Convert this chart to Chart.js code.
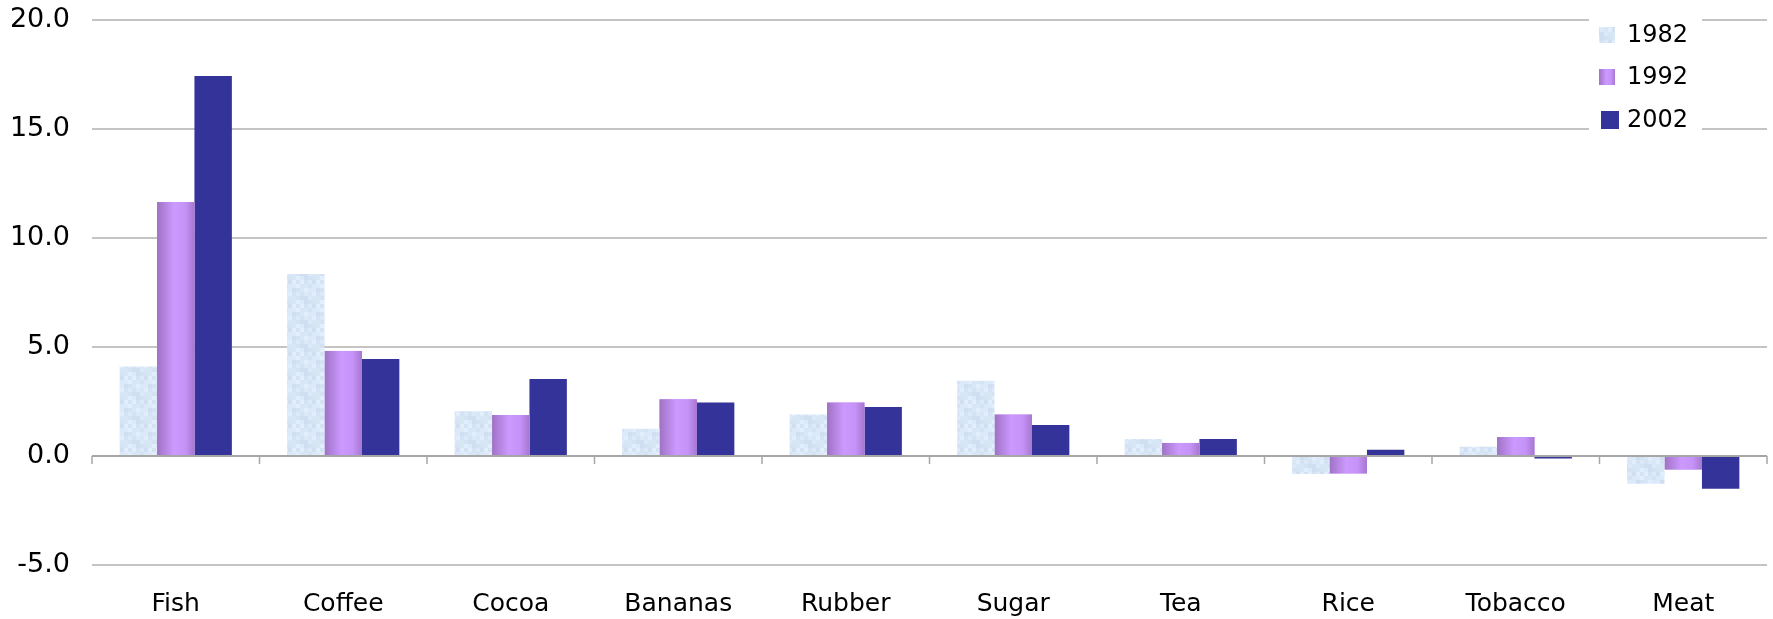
<!DOCTYPE html>
<html>
<head>
<meta charset="utf-8">
<script src="https://cdn.jsdelivr.net/npm/chart.js@4"></script>
<style>
    html, body { margin: 0; padding: 0; background: #ffffff; }
    #wrap { width: 1773px; height: 619px; position: relative; }
</style>
</head>
<body>
<div id="wrap"><canvas id="exportChart"></canvas></div>
<script>
const categories = ['Fish', 'Coffee', 'Cocoa', 'Bananas', 'Rubber', 'Sugar', 'Tea', 'Rice', 'Tobacco', 'Meat'];
const years = ['1982', '1992', '2002'];
const values1982 = [4.1, 8.35, 2.05, 1.25, 1.9, 3.45, 0.78, -0.83, 0.42, -1.27];
const values1992 = [11.65, 4.82, 1.88, 2.6, 2.45, 1.9, 0.6, -0.8, 0.87, -0.62];
const values2002 = [17.43, 4.45, 3.53, 2.45, 2.25, 1.42, 0.78, 0.29, -0.12, -1.5];
const yTicks = [-5, 0, 5, 10, 15, 20];

const FONT = "'DejaVu Sans', 'Liberation Sans', sans-serif";

// mottled light blue fill for 1982 (fixed pattern, not data)
function makeMottle() {
    const c = document.createElement('canvas');
    c.width = 24; c.height = 24;
    const g = c.getContext('2d');
    const shades = ['#dbe9f8', '#d3e3f4', '#e2eefb', '#cfdff1', '#d8e7f6'];
    for (let i = 0; i < 6; i++) {
        for (let j = 0; j < 6; j++) {
            g.fillStyle = shades[(i * 3 + j * 2 + (i * j) % 3) % shades.length];
            g.fillRect(i * 4, j * 4, 4, 4);
        }
    }
    return g.createPattern(c, 'repeat');
}
const mottle = makeMottle();

const colors = [mottle, '#c596f7', '#333399'];

function purpleGradient(ctx, left, width) {
    const gr = ctx.createLinearGradient(left, 0, left + width, 0);
    gr.addColorStop(0, '#9f72c4');
    gr.addColorStop(0.45, '#cc99ff');
    gr.addColorStop(0.75, '#c593f8');
    gr.addColorStop(1, '#a677cf');
    return gr;
}

// gradient on the 1992 bars, drawn over each bar's own geometry
const barShading = {
    id: 'barShading',
    afterDatasetDraw(chart, args) {
        if (args.index !== 1) return;
        const ctx = chart.ctx;
        args.meta.data.forEach(bar => {
            const p = bar.getProps(['x', 'y', 'base', 'width'], true);
            const left = p.x - p.width / 2;
            const top = Math.min(p.y, p.base);
            const h = Math.abs(p.base - p.y);
            ctx.save();
            ctx.fillStyle = purpleGradient(ctx, left, p.width);
            ctx.fillRect(left, top, p.width, h);
            ctx.restore();
        });
    }
};

// zero line with tick marks at the category boundaries
const zeroAxis = {
    id: 'zeroAxis',
    afterDatasetsDraw(chart) {
        const { ctx, chartArea, scales } = chart;
        const y0 = scales.y.getPixelForValue(0);
        ctx.save();
        ctx.strokeStyle = '#a6a6a6';
        ctx.lineWidth = 2;
        ctx.beginPath();
        ctx.moveTo(chartArea.left, y0);
        ctx.lineTo(chartArea.right, y0);
        ctx.stroke();
        ctx.lineWidth = 1.5;
        for (let i = 0; i <= categories.length; i++) {
            const x = scales.x.getPixelForValue(i - 0.5);
            ctx.beginPath();
            ctx.moveTo(x, y0);
            ctx.lineTo(x, y0 + 8);
            ctx.stroke();
        }
        ctx.restore();
    }
};

// boxed legend at the top right
const boxLegend = {
    id: 'boxLegend',
    afterDraw(chart) {
        const ctx = chart.ctx;
        const rows = [35, 77, 120];
        ctx.save();
        ctx.fillStyle = '#ffffff';
        ctx.fillRect(1589, 10, 113, 128);
        ctx.font = '24px ' + FONT;
        ctx.textBaseline = 'middle';
        years.forEach((yr, i) => {
            const cy = rows[i];
            const size = i === 2 ? 18 : 16;
            if (i === 1) {
                ctx.fillStyle = purpleGradient(ctx, 1599, size);
            } else {
                ctx.fillStyle = colors[i];
            }
            ctx.fillRect(1599 + (i === 2 ? 2 : 0), cy - size / 2, size, size);
            ctx.fillStyle = '#000000';
            ctx.fillText(yr, 1627, cy + 1);
        });
        ctx.restore();
    }
};

new Chart(document.getElementById('exportChart'), {
    type: 'bar',
    data: {
        labels: categories,
        datasets: [
            { label: years[0], data: values1982, backgroundColor: colors[0] },
            { label: years[1], data: values1992, backgroundColor: colors[1] },
            { label: years[2], data: values2002, backgroundColor: colors[2] }
        ]
    },
    options: {
        responsive: true,
        maintainAspectRatio: false,
        animation: false,
        events: [],
        layout: { padding: { top: 20, right: 6, left: 0, bottom: 0 } },
        datasets: {
            bar: { categoryPercentage: 0.67, barPercentage: 1.0, borderWidth: 0 }
        },
        plugins: {
            legend: { display: false },
            tooltip: { enabled: false }
        },
        scales: {
            x: {
                grid: { display: false },
                border: { display: false },
                ticks: { color: '#000000', font: { family: FONT, size: 25 }, padding: 16, maxRotation: 0 },
                afterFit: scale => { scale.height = 54; }
            },
            y: {
                min: -5,
                max: 20,
                afterBuildTicks: scale => { scale.ticks = yTicks.map(v => ({ value: v })); },
                grid: {
                    color: ctx => ctx.tick && ctx.tick.value === 0 ? 'rgba(0,0,0,0)' : '#c4c4c4',
                    lineWidth: 2,
                    drawTicks: false
                },
                border: { display: false },
                ticks: {
                    color: '#000000',
                    font: { family: FONT, size: 27 },
                    padding: 22,
                    callback: v => v.toFixed(1)
                },
                afterFit: scale => {
                    scale.width = 92;
                    scale.paddingTop = 0;
                    scale.paddingBottom = 0;
                }
            }
        }
    },
    plugins: [barShading, zeroAxis, boxLegend]
});
</script>
</body>
</html>
